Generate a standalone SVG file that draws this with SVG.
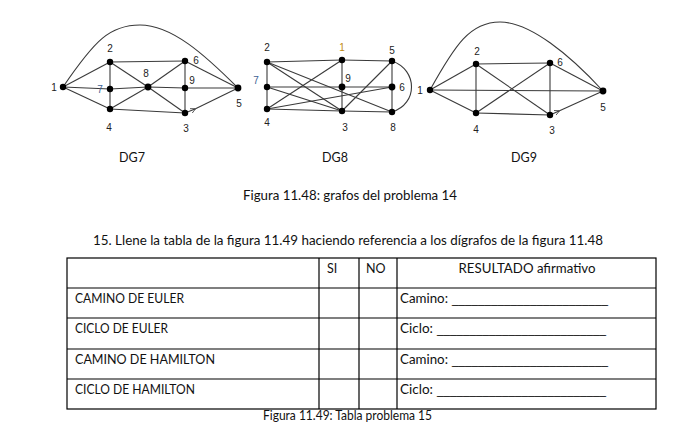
<svg xmlns="http://www.w3.org/2000/svg" width="679" height="433" viewBox="0 0 679 433">
<style>
.e{stroke:#3a3a3a;stroke-width:1.1;fill:none}
.n{fill:#000}
.lb{font-family:"Liberation Sans",Arial,sans-serif;font-size:10px;fill:#222;text-anchor:middle}
.bl{fill:#3d5f94}
.or{fill:#c08a10}
.t{font-family:Lato,"Open Sans",sans-serif;font-size:12.5px;fill:#111}
.u{font-family:"Liberation Sans",Arial,sans-serif;font-size:12px;fill:#111}
.c{text-anchor:middle}
.grid{stroke:#000;stroke-width:1.2;fill:none}
</style>
<defs>
<marker id="ah" viewBox="0 0 8 8" refX="1" refY="4" markerWidth="5" markerHeight="5" orient="auto" markerUnits="userSpaceOnUse">
<path d="M8,0 L0,4 L8,8" fill="none" stroke="#333" stroke-width="1.2"/>
</marker>
</defs>
<rect width="679" height="433" fill="#fff"/>

<!-- DG7 -->
<g id="connectors-dg7">
<path class="e" d="M63,87 C95,40 110,25 140,25 C172,25 205,55 238,88"/>
<line class="e" x1="63" y1="87" x2="110" y2="62"/>
<line class="e" x1="63" y1="87" x2="110" y2="89"/>
<line class="e" x1="63" y1="87" x2="110" y2="109"/>
<line class="e" x1="110" y1="62" x2="185" y2="61"/>
<line class="e" x1="110" y1="62" x2="110" y2="89"/>
<line class="e" x1="110" y1="62" x2="148" y2="87"/>
<line class="e" x1="110" y1="89" x2="110" y2="109"/>
<line class="e" x1="110" y1="89" x2="148" y2="87"/>
<line class="e" x1="110" y1="109" x2="148" y2="87"/>
<line class="e" x1="110" y1="109" x2="185" y2="113"/>
<line class="e" x1="148" y1="87" x2="185" y2="61"/>
<line class="e" x1="148" y1="87" x2="185" y2="88"/>
<line class="e" x1="148" y1="87" x2="185" y2="113"/>
<line class="e" x1="185" y1="61" x2="185" y2="88"/>
<line class="e" x1="185" y1="88" x2="185" y2="113"/>
<line class="e" x1="185" y1="61" x2="238" y2="88"/>
<line class="e" x1="185" y1="88" x2="238" y2="88"/>
<line class="e" x1="238" y1="88" x2="195" y2="109" marker-end="url(#ah)"/>
<line class="e" x1="195" y1="109" x2="185" y2="113"/>
</g>
<g id="dg7-n1"><circle class="n" cx="63" cy="87" r="3.2"/><text class="lb" x="54" y="91">1</text></g>
<g id="dg7-n2"><circle class="n" cx="110" cy="62" r="3.2"/><text class="lb" x="110" y="52">2</text></g>
<g id="dg7-n7"><circle class="n" cx="110" cy="89" r="3.2"/><text class="lb bl" x="100" y="93">7</text></g>
<g id="dg7-n4"><circle class="n" cx="110" cy="109" r="3.2"/><text class="lb" x="109" y="131">4</text></g>
<g id="dg7-n8"><circle class="n" cx="148" cy="87" r="3.4"/><text class="lb" x="146" y="77">8</text></g>
<g id="dg7-n6"><circle class="n" cx="185" cy="61" r="3.2"/><text class="lb" x="196" y="64">6</text></g>
<g id="dg7-n9"><circle class="n" cx="185" cy="88" r="3.2"/><text class="lb" x="192" y="84">9</text></g>
<g id="dg7-n3"><circle class="n" cx="185" cy="113" r="3.2"/><text class="lb" x="186" y="132">3</text></g>
<g id="dg7-n5"><circle class="n" cx="238" cy="88" r="3.4"/><text class="lb" x="239" y="107">5</text></g>

<!-- DG8 -->
<g id="connectors-dg8">
<path class="e" d="M392,61 C418,70 418,104 392,112"/>
<line class="e" x1="267" y1="62" x2="342" y2="60"/>
<line class="e" x1="342" y1="60" x2="392" y2="61"/>
<line class="e" x1="267" y1="62" x2="267" y2="87"/>
<line class="e" x1="267" y1="87" x2="267" y2="109"/>
<line class="e" x1="342" y1="60" x2="342" y2="87"/>
<line class="e" x1="342" y1="87" x2="342" y2="111"/>
<line class="e" x1="392" y1="61" x2="392" y2="87"/>
<line class="e" x1="392" y1="87" x2="392" y2="112"/>
<line class="e" x1="267" y1="109" x2="342" y2="111"/>
<line class="e" x1="342" y1="111" x2="392" y2="112"/>
<line class="e" x1="267" y1="87" x2="392" y2="87"/>
<line class="e" x1="267" y1="62" x2="342" y2="111"/>
<line class="e" x1="267" y1="62" x2="392" y2="112"/>
<line class="e" x1="267" y1="87" x2="342" y2="111"/>
<line class="e" x1="267" y1="109" x2="342" y2="60"/>
<line class="e" x1="267" y1="109" x2="392" y2="87"/>
<line class="e" x1="342" y1="111" x2="392" y2="61"/>
</g>
<g id="dg8-n2"><circle class="n" cx="267" cy="62" r="3.2"/><text class="lb" x="267" y="51">2</text></g>
<g id="dg8-n1"><circle class="n" cx="342" cy="60" r="3.2"/><text class="lb or" x="342" y="51">1</text></g>
<g id="dg8-n5"><circle class="n" cx="392" cy="61" r="3.2"/><text class="lb" x="392" y="54">5</text></g>
<g id="dg8-n7"><circle class="n" cx="267" cy="87" r="3.2"/><text class="lb bl" x="256" y="84">7</text></g>
<g id="dg8-n9"><circle class="n" cx="342" cy="87" r="3.4"/><text class="lb" x="348" y="82">9</text></g>
<g id="dg8-n6"><circle class="n" cx="392" cy="87" r="3.4"/><text class="lb" x="402" y="91">6</text></g>
<g id="dg8-n4"><circle class="n" cx="267" cy="109" r="3.2"/><text class="lb" x="267" y="126">4</text></g>
<g id="dg8-n3"><circle class="n" cx="342" cy="111" r="3.2"/><text class="lb" x="345" y="131">3</text></g>
<g id="dg8-n8"><circle class="n" cx="392" cy="112" r="3.2"/><text class="lb" x="393" y="131">8</text></g>

<!-- DG9 -->
<g id="connectors-dg9">
<path class="e" d="M430,90 C455,45 470,22 500,22 C530,22 570,55 603,91"/>
<line class="e" x1="430" y1="90" x2="476" y2="64"/>
<line class="e" x1="430" y1="90" x2="603" y2="91"/>
<line class="e" x1="430" y1="90" x2="476" y2="113"/>
<line class="e" x1="476" y1="64" x2="550" y2="63"/>
<line class="e" x1="476" y1="64" x2="476" y2="113"/>
<line class="e" x1="476" y1="64" x2="550" y2="115"/>
<line class="e" x1="476" y1="113" x2="550" y2="63"/>
<line class="e" x1="476" y1="113" x2="550" y2="115"/>
<line class="e" x1="550" y1="63" x2="550" y2="115"/>
<line class="e" x1="550" y1="63" x2="603" y2="91"/>
<line class="e" x1="603" y1="91" x2="559" y2="111" marker-end="url(#ah)"/>
<line class="e" x1="559" y1="111" x2="550" y2="115"/>
</g>
<g id="dg9-n1"><circle class="n" cx="430" cy="90" r="3.2"/><text class="lb" x="420" y="94">1</text></g>
<g id="dg9-n2"><circle class="n" cx="476" cy="64" r="3.2"/><text class="lb" x="477" y="55">2</text></g>
<g id="dg9-n6"><circle class="n" cx="550" cy="63" r="3.2"/><text class="lb" x="560" y="66">6</text></g>
<g id="dg9-n4"><circle class="n" cx="476" cy="113" r="3.2"/><text class="lb" x="476" y="133">4</text></g>
<g id="dg9-n3"><circle class="n" cx="550" cy="115" r="3.2"/><text class="lb" x="552" y="134">3</text></g>
<g id="dg9-n5"><circle class="n" cx="603" cy="91" r="3.4"/><text class="lb" x="603" y="111">5</text></g>

<!-- captions -->
<g id="captions">
<text class="t c" x="132" y="162">DG7</text>
<text class="t c" x="335" y="162">DG8</text>
<text class="t c" x="524" y="162">DG9</text>
<text class="t" x="243" y="200" textLength="214" lengthAdjust="spacingAndGlyphs">Figura 11.48: grafos del problema 14</text>
<text class="t" x="93" y="245" textLength="510" lengthAdjust="spacingAndGlyphs">15.  Llene la tabla de la figura 11.49 haciendo referencia a los dígrafos de la figura 11.48</text>
<text class="t" x="263" y="420" textLength="169" lengthAdjust="spacingAndGlyphs">Figura 11.49: Tabla problema 15</text>
</g>

<!-- table -->
<g id="table">
<rect class="grid" x="67" y="258" width="589" height="151"/>
<line class="grid" x1="67" y1="288" x2="656" y2="288"/>
<line class="grid" x1="67" y1="318" x2="656" y2="318"/>
<line class="grid" x1="67" y1="349" x2="656" y2="349"/>
<line class="grid" x1="67" y1="379" x2="656" y2="379"/>
<line class="grid" x1="319" y1="258" x2="319" y2="409"/>
<line class="grid" x1="359" y1="258" x2="359" y2="409"/>
<line class="grid" x1="397" y1="258" x2="397" y2="409"/>
<text class="t" x="327" y="273">SI</text>
<text class="t" x="366" y="273">NO</text>
<text class="t c" x="527" y="273" textLength="137" lengthAdjust="spacingAndGlyphs">RESULTADO afirmativo</text>
<text class="t" x="75" y="303" textLength="109" lengthAdjust="spacingAndGlyphs">CAMINO DE EULER</text>
<text class="t" x="75" y="333" textLength="93" lengthAdjust="spacingAndGlyphs">CICLO DE EULER</text>
<text class="t" x="75" y="364" textLength="140" lengthAdjust="spacingAndGlyphs">CAMINO DE HAMILTON</text>
<text class="t" x="75" y="394" textLength="120" lengthAdjust="spacingAndGlyphs">CICLO DE HAMILTON</text>
<text class="t" x="400" y="303" textLength="48" lengthAdjust="spacingAndGlyphs">Camino:</text>
<text class="u" x="452" y="303" textLength="156" lengthAdjust="spacingAndGlyphs">________________________</text>
<text class="t" x="400" y="333" textLength="33" lengthAdjust="spacingAndGlyphs">Ciclo:</text>
<text class="u" x="437" y="333" textLength="169" lengthAdjust="spacingAndGlyphs">__________________________</text>
<text class="t" x="400" y="364" textLength="48" lengthAdjust="spacingAndGlyphs">Camino:</text>
<text class="u" x="452" y="364" textLength="156" lengthAdjust="spacingAndGlyphs">________________________</text>
<text class="t" x="400" y="394" textLength="33" lengthAdjust="spacingAndGlyphs">Ciclo:</text>
<text class="u" x="437" y="394" textLength="169" lengthAdjust="spacingAndGlyphs">__________________________</text>
</g>
</svg>
